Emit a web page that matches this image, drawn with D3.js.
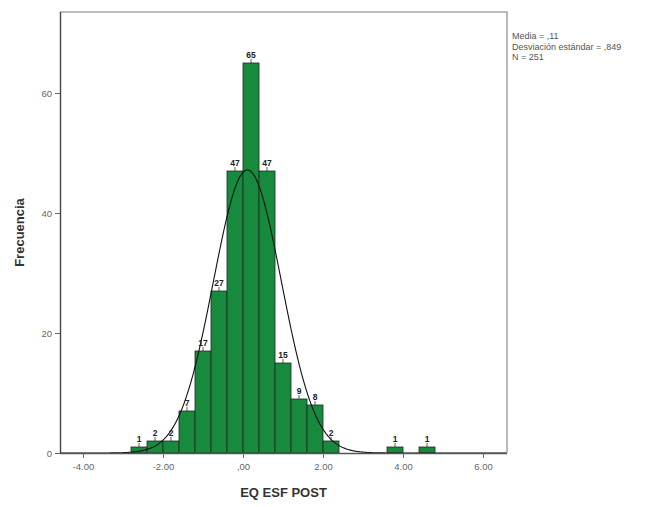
<!DOCTYPE html>
<html>
<head>
<meta charset="utf-8">
<script src="https://cdn.jsdelivr.net/npm/d3@7/dist/d3.min.js"></script>
<style>
  html, body { margin: 0; padding: 0; background: #fff; }
  svg { display: block; font-family: "Liberation Sans", Arial, sans-serif; }
</style>
</head>
<body>
<svg id="chart" width="662" height="507"></svg>
<script>
// Histogram bins of EQ ESF POST (lower edge of each 0.4-wide bin) and their frequencies
const binStarts = [-2.8, -2.4, -2.0, -1.6, -1.2, -0.8, -0.4, 0.0, 0.4, 0.8, 1.2, 1.6, 2.0, 3.6, 4.4];
const counts    = [1, 2, 2, 7, 17, 27, 47, 65, 47, 15, 9, 8, 2, 1, 1];
const binWidth = 0.4;

// Summary statistics for the fitted normal curve
const statLabels = ["Media = ,11", "Desviación estándar = ,849", "N = 251"];
const mean = 0.11, sd = 0.849, n = 251;

// Axis ticks
const xTicks = [-4, -2, 0, 2, 4, 6];
const xTickLabels = ["-4.00", "-2.00", ",00", "2.00", "4.00", "6.00"];
const yTicks = [0, 20, 40, 60];

const svg = d3.select("#chart");
const plotL = 60, plotR = 507, plotT = 12, plotB = 453;

const x = d3.scaleLinear().domain([-4.575, 6.6]).range([plotL, plotR]);
const y = d3.scaleLinear().domain([0, 73.5]).range([plotB, plotT]);

// Frame (top and right edges)
svg.append("path")
  .attr("d", `M${plotL},${plotT}H${plotR}V${plotB}`)
  .attr("fill", "none").attr("stroke", "#a8a8a8").attr("stroke-width", 1.6);

// Bars
const bars = binStarts.map((s, i) => ({ x0: s, x1: s + binWidth, c: counts[i] }));
svg.append("g").selectAll("rect").data(bars).join("rect")
  .attr("x", d => x(d.x0))
  .attr("width", d => x(d.x1) - x(d.x0))
  .attr("y", d => y(d.c))
  .attr("height", d => y(0) - y(d.c))
  .attr("fill", "#178a3e")
  .attr("stroke", "#1d2a20")
  .attr("stroke-width", 0.8);

// Normal curve
const pdf = v => n * binWidth / (sd * Math.sqrt(2 * Math.PI)) * Math.exp(-0.5 * ((v - mean) / sd) ** 2);
const curvePts = d3.range(-4.575, 6.6001, 0.02).map(v => [v, pdf(v)]);
svg.append("path")
  .datum(curvePts)
  .attr("d", d3.line().x(d => x(d[0])).y(d => y(d[1])))
  .attr("fill", "none").attr("stroke", "#111").attr("stroke-width", 1.1);

// Count labels with short leaders
const lab = svg.append("g");
bars.forEach(d => {
  const cx = (x(d.x0) + x(d.x1)) / 2;
  lab.append("line")
    .attr("x1", cx).attr("x2", cx)
    .attr("y1", y(d.c) - 4).attr("y2", y(d.c))
    .attr("stroke", "#333").attr("stroke-width", 0.8);
  lab.append("text")
    .attr("x", cx).attr("y", y(d.c) - 5)
    .attr("text-anchor", "middle")
    .attr("font-size", 8.5).attr("font-weight", "bold")
    .attr("fill", "#222")
    .text(d.c);
});

// X axis
const xAxis = svg.append("g").attr("transform", `translate(0,${plotB})`)
  .call(d3.axisBottom(x).tickValues(xTicks).tickSize(5)
        .tickFormat((d, i) => xTickLabels[i]));
xAxis.select(".domain").attr("d", `M${plotL},0.5H${plotR}`).attr("stroke", "#555").attr("stroke-width", 1.4);
xAxis.selectAll(".tick line").attr("stroke", "#666");
xAxis.selectAll(".tick text").attr("fill", "#666").attr("font-size", 9.5)
  .attr("font-family", "Liberation Sans, Arial, sans-serif").attr("dy", "0.9em");

// Y axis
const yAxis = svg.append("g").attr("transform", `translate(${plotL},0)`)
  .call(d3.axisLeft(y).tickValues(yTicks).tickSize(5));
yAxis.select(".domain").attr("d", `M0.5,${plotT}V${plotB}`).attr("stroke", "#444").attr("stroke-width", 1.4);
yAxis.selectAll(".tick line").attr("stroke", "#666");
yAxis.selectAll(".tick text").attr("fill", "#666").attr("font-size", 9.5)
  .attr("font-family", "Liberation Sans, Arial, sans-serif");

// Axis titles
svg.append("text")
  .attr("x", (plotL + plotR) / 2).attr("y", 497)
  .attr("text-anchor", "middle")
  .attr("font-size", 13).attr("font-weight", "bold").attr("fill", "#333")
  .text("EQ ESF POST");

svg.append("text")
  .attr("transform", `translate(24,${(plotT + plotB) / 2}) rotate(-90)`)
  .attr("text-anchor", "middle")
  .attr("font-size", 13).attr("font-weight", "bold").attr("fill", "#333")
  .text("Frecuencia");

// Statistics block
svg.append("g").selectAll("text").data(statLabels).join("text")
  .attr("x", 512).attr("y", (d, i) => 39 + i * 10.5)
  .attr("font-size", 9).attr("fill", "#555")
  .text(d => d);
</script>
</body>
</html>
